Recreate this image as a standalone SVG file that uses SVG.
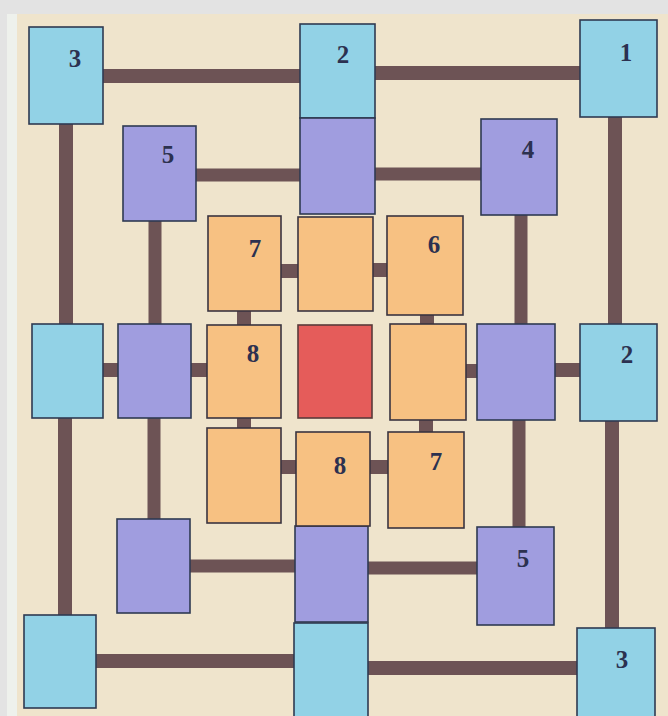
<svg xmlns="http://www.w3.org/2000/svg" width="668" height="716" viewBox="0 0 668 716">
<style>
.cy{fill:#92d2e6;stroke:#2f3a52;stroke-width:1.6}
.pu{fill:#a09ddf;stroke:#2f3a52;stroke-width:1.6}
.or{fill:#f7c182;stroke:#3a3440;stroke-width:1.6}
.rd{fill:#e55c5a;stroke:#5a3a3a;stroke-width:1.6}
.c{stroke:#6d5355;stroke-linecap:butt;fill:none}
.w1{stroke-width:14}
.w2{stroke-width:13}
.w3{stroke-width:14}
text{font-family:"Liberation Serif","Times New Roman",serif;font-size:25px;font-weight:bold;fill:#2c3150;text-anchor:middle}
</style>
<rect x="0" y="0" width="668" height="716" fill="#e3e3e3"/>
<rect x="7" y="14" width="661" height="702" fill="#efe4cc"/>
<rect x="7" y="14" width="10" height="702" fill="#eef1ec"/>
<g id="connectors">
<line class="c w1" x1="103" y1="76" x2="300" y2="76"/>
<line class="c w1" x1="375" y1="73" x2="580" y2="73"/>
<line class="c w1" x1="66" y1="124" x2="66" y2="324"/>
<line class="c w1" x1="65" y1="418" x2="65" y2="615"/>
<line class="c w1" x1="615" y1="117" x2="615" y2="324"/>
<line class="c w1" x1="612" y1="421" x2="612" y2="628"/>
<line class="c w1" x1="96" y1="661" x2="294" y2="661"/>
<line class="c w1" x1="368" y1="668" x2="577" y2="668"/>
<line class="c w2" x1="196" y1="175" x2="300" y2="175"/>
<line class="c w2" x1="375" y1="174" x2="481" y2="174"/>
<line class="c w2" x1="155" y1="221" x2="155" y2="324"/>
<line class="c w2" x1="154" y1="418" x2="154" y2="519"/>
<line class="c w2" x1="521" y1="215" x2="521" y2="324"/>
<line class="c w2" x1="519" y1="420" x2="519" y2="527"/>
<line class="c w2" x1="190" y1="566" x2="295" y2="566"/>
<line class="c w2" x1="368" y1="568" x2="477" y2="568"/>
<line class="c w3" x1="103" y1="370" x2="118" y2="370"/>
<line class="c w3" x1="191" y1="370" x2="207" y2="370"/>
<line class="c w3" x1="466" y1="371" x2="477" y2="371"/>
<line class="c w3" x1="555" y1="370" x2="580" y2="370"/>
<line class="c w3" x1="281" y1="271" x2="298" y2="271"/>
<line class="c w3" x1="373" y1="270" x2="387" y2="270"/>
<line class="c w3" x1="244" y1="311" x2="244" y2="325"/>
<line class="c w3" x1="244" y1="418" x2="244" y2="428"/>
<line class="c w3" x1="281" y1="467" x2="296" y2="467"/>
<line class="c w3" x1="370" y1="467" x2="388" y2="467"/>
<line class="c w3" x1="427" y1="315" x2="427" y2="324"/>
<line class="c w3" x1="426" y1="420" x2="426" y2="432"/>
</g>
<g id="c-tl"><rect class="cy" x="29" y="27" width="74" height="97"/><text x="75" y="67">3</text></g>
<g id="c-tc"><rect class="cy" x="300" y="24" width="75" height="94"/><text x="343" y="63">2</text></g>
<g id="c-tr"><rect class="cy" x="580" y="20" width="77" height="97"/><text x="626" y="61">1</text></g>
<g id="c-ml"><rect class="cy" x="32" y="324" width="71" height="94"/></g>
<g id="c-mr"><rect class="cy" x="580" y="324" width="77" height="97"/><text x="627" y="363">2</text></g>
<g id="c-bl"><rect class="cy" x="24" y="615" width="72" height="93"/></g>
<g id="c-bc"><rect class="cy" x="294" y="623" width="74" height="100"/></g>
<g id="c-br"><rect class="cy" x="577" y="628" width="78" height="95"/><text x="622" y="668">3</text></g>
<g id="p-tl"><rect class="pu" x="123" y="126" width="73" height="95"/><text x="168" y="163">5</text></g>
<g id="p-tc"><rect class="pu" x="300" y="118" width="75" height="96"/></g>
<g id="p-tr"><rect class="pu" x="481" y="119" width="76" height="96"/><text x="528" y="158">4</text></g>
<g id="p-ml"><rect class="pu" x="118" y="324" width="73" height="94"/></g>
<g id="p-mr"><rect class="pu" x="477" y="324" width="78" height="96"/></g>
<g id="p-bl"><rect class="pu" x="117" y="519" width="73" height="94"/></g>
<g id="p-bc"><rect class="pu" x="295" y="526" width="73" height="96"/></g>
<g id="p-br"><rect class="pu" x="477" y="527" width="77" height="98"/><text x="523" y="567">5</text></g>
<g id="o-tl"><rect class="or" x="208" y="216" width="73" height="95"/><text x="255" y="257">7</text></g>
<g id="o-tc"><rect class="or" x="298" y="217" width="75" height="94"/></g>
<g id="o-tr"><rect class="or" x="387" y="216" width="76" height="99"/><text x="434" y="253">6</text></g>
<g id="o-ml"><rect class="or" x="207" y="325" width="74" height="93"/><text x="253" y="362">8</text></g>
<g id="center"><rect class="rd" x="298" y="325" width="74" height="93"/></g>
<g id="o-mr"><rect class="or" x="390" y="324" width="76" height="96"/></g>
<g id="o-bl"><rect class="or" x="207" y="428" width="74" height="95"/></g>
<g id="o-bc"><rect class="or" x="296" y="432" width="74" height="94"/><text x="340" y="474">8</text></g>
<g id="o-br"><rect class="or" x="388" y="432" width="76" height="96"/><text x="436" y="470">7</text></g>
</svg>
